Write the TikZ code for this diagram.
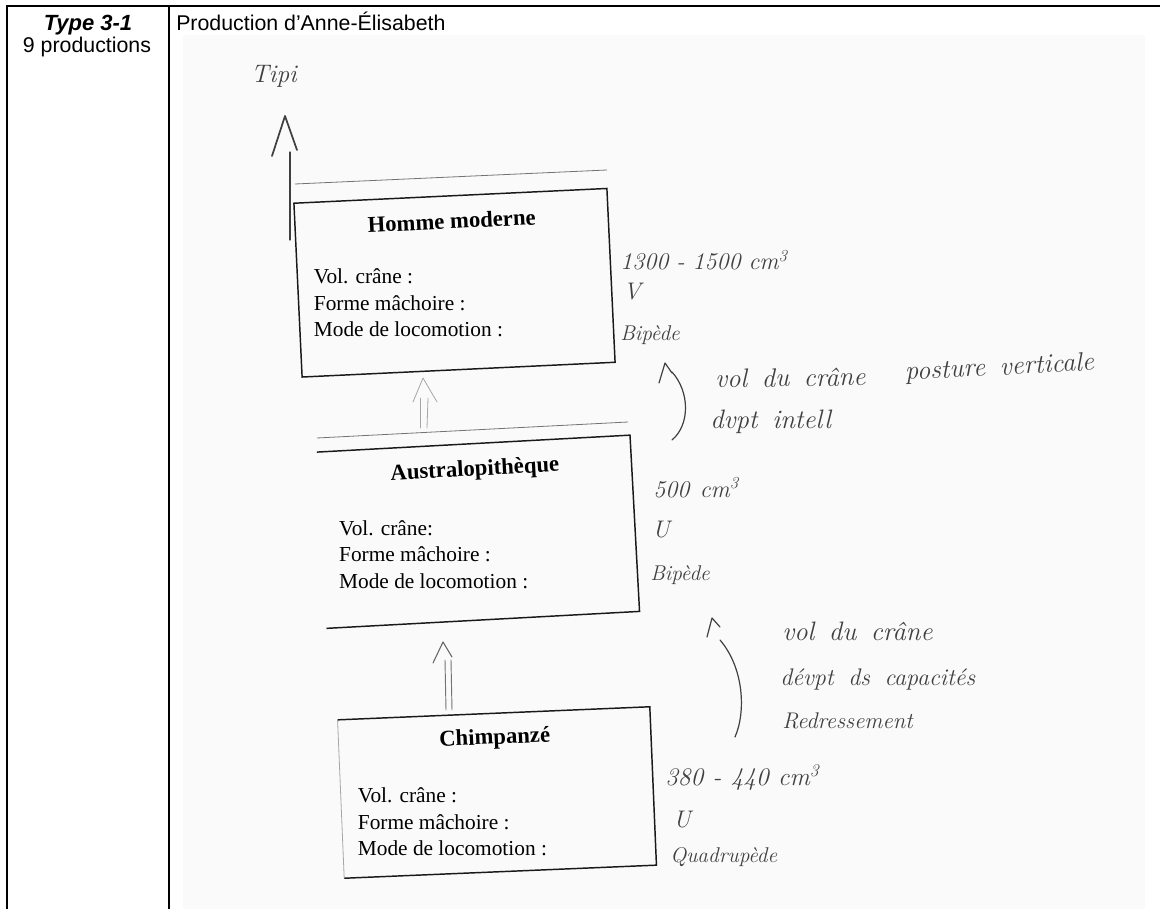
\documentclass[tikz,border=0pt]{standalone}
\usepackage{fontspec}
\newfontfamily\arialf{Liberation Sans}
\newfontfamily\serf{Liberation Serif}
\begin{document}
\begin{tikzpicture}[x=0.75pt,y=-0.75pt,
  frame/.style={line width=1.5pt},
  boxtitle/.style={font=\serf\bfseries\fontsize{17}{20}\selectfont, anchor=base, inner sep=0pt},
  fields/.style={font=\serf\fontsize{16}{19.8}\selectfont, anchor=north west, inner sep=0pt, align=left},
  boxline/.style={line width=1.1pt, draw=black!90},
  thinline/.style={line width=0.6pt, draw=black!55},
  hand/.style={draw=black!75, line width=0.9pt, line cap=round, line join=round},
  faint/.style={draw=black!35, line width=0.6pt, line cap=round, line join=round},
  hw/.style={font=\itshape\fontsize{#1}{#1}\selectfont, text=black!75, inner sep=0pt, anchor=base west, execute at begin node={\spaceskip=11pt\relax}},
  hw/.default=18,
  hdr/.style={font=\arialf\fontsize{16}{19}\selectfont, inner sep=0pt}
]
\newcommand{\firststrut}{\rule{0pt}{12pt}}
\useasboundingbox (0,0) rectangle (1160,909);
\fill[white] (0,0) rectangle (1160,909);
\fill[black!2] (183,35) rectangle (1145,909);
% table frame
\draw[frame] (6,6) -- (1160,6);
\draw[frame] (7,6) -- (7,909);
\draw[frame] (169,6) -- (169,909);
% header
\node[hdr, font=\arialf\bfseries\itshape\fontsize{16.5}{19}\selectfont, anchor=base] (type) at (88,31) {Type 3-1};
\node[hdr, anchor=base] (nprod) at (87,53) {9 productions};
\node[hdr, anchor=base west] (prodtitle) at (176,31) {Production d’Anne-Élisabeth};

% Homme moderne
\draw[thinline] (295,184) -- (607,170);
\begin{scope}[shift={(454.5,282.75)}, rotate=2.7]
  \node[boxline, draw, transform shape, minimum width=235pt, minimum height=130.5pt, inner sep=0pt] (homme) at (0,0) {};
  \node[boxtitle, transform shape] (hommeT) at (0,-54) {Homme moderne};
  \node[fields] (hommeF) at (-140,-22) {\firststrut Vol. crâne :\\ Forme mâchoire :\\ Mode de locomotion :};
\end{scope}

% Australopitheque
\draw[thinline] (317,438) -- (628,422);
\begin{scope}[shift={(478.25,531.75)}, rotate=3.1]
  \node[transform shape, minimum width=234.75pt, minimum height=132pt, inner sep=0pt] (austral) at (0,0) {};
  \draw[boxline] (austral.north west) -- (austral.north east) -- (austral.south east) -- (austral.south west);
  \node[boxtitle, transform shape] (australT) at (0,-56) {Australopithèque};
  \node[fields] (australF) at (-138.5,-20) {\firststrut Vol. crâne:\\ Forme mâchoire :\\ Mode de locomotion :};
\end{scope}

% Chimpanze
\begin{scope}[shift={(497,792.5)}, rotate=2.4]
  \node[transform shape, minimum width=234pt, minimum height=118.5pt, inner sep=0pt] (chimp) at (0,0) {};
  \draw[boxline] (chimp.north west) -- (chimp.north east) -- (chimp.south east) -- (chimp.south west);
  \draw[faint] (chimp.south west) -- (chimp.north west);
  \node[boxtitle, transform shape] (chimpT) at (0,-48.5) {Chimpanzé};
  \node[fields] (chimpF) at (-139,-12) {\firststrut Vol. crâne :\\ Forme mâchoire :\\ Mode de locomotion :};
\end{scope}

% top arrow to "Tipi"
\node[hw=19, anchor=center] (types) at (274,76) {Tipi};
\coordinate (tipApex) at (285,116);
\coordinate (tipL) at (272,156);
\coordinate (tipR) at (297,150);
\coordinate (shaftTop) at (290,152);
\coordinate (shaftBot) at (290,240);
\draw[hand] (shaftBot) -- (shaftTop);
\draw[hand, line width=1.3pt] (tipL) -- (tipApex) -- (tipR);

% arrow Australopitheque -> Homme (faint)
\coordinate (a1b) at (420,428); \coordinate (a1t) at (420,398);
\coordinate (a2b) at (427,428); \coordinate (a2t) at (428,398);
\coordinate (aApex) at (423,378);
\draw[faint] (a1b) -- (a1t);
\draw[faint] (a2b) -- (a2t);
\draw[faint] (413,402) -- (aApex) -- (437,402);

% arrow Chimpanze -> Australopitheque
\coordinate (c1b) at (446,710); \coordinate (c1t) at (445,660);
\coordinate (c2b) at (452,710); \coordinate (c2t) at (451,660);
\coordinate (cApex) at (443,642);
\draw[hand, draw=black!55, line width=0.7pt] (c1b) -- (c1t);
\draw[hand, draw=black!55, line width=0.7pt] (c2b) -- (c2t);
\draw[hand, draw=black!60, line width=0.8pt] (433,663) -- (cApex) -- (452,657);

% curved arrows
\coordinate (k1s) at (672,440); \coordinate (k1e) at (672,372);
\draw[hand] (k1s) .. controls (690,425) and (690,392) .. (k1e);
\draw[hand] (659,383) -- (665,363) -- (672,373);
\coordinate (k2s) at (735,737); \coordinate (k2e) at (720,640);
\draw[hand] (k2s) .. controls (746,712) and (744,668) .. (k2e);
\draw[hand] (707,637) -- (712,618) -- (720,627);

% handwritten annotations
\node[hw=18, execute at begin node={\spaceskip=6pt\relax}] (h1) at (620,270) {1300 - 1500 cm\textsuperscript{3}};
\node[hw=18] (h2) at (623,300) {V};
\node[hw=16] (h3) at (620,340) {Bipède};
\node[hw=20, rotate=1] (n1) at (715,388) {vol du crâne};
\node[hw=20, rotate=3] (n2) at (905,380) {posture verticale};
\node[hw=20] (n3) at (710,428) {dvpt intell};
\node[hw=18, execute at begin node={\spaceskip=8pt\relax}] (a1) at (653,497) {500 cm\textsuperscript{3}};
\node[hw=18] (a2) at (652,537) {U};
\node[hw=16] (a3) at (650,580) {Bipède};
\node[hw=20] (m1) at (782,640) {vol du crâne};
\node[hw=18] (m2) at (780,685) {dévpt ds capacités};
\node[hw=17] (m3) at (782,728) {Redressement};
\node[hw=19, execute at begin node={\spaceskip=7pt\relax}] (c1) at (665,785) {380 - 440 cm\textsuperscript{3}};
\node[hw=18] (c2) at (673,827) {U};
\node[hw=16] (c3) at (670,862) {Quadrupède};
\end{tikzpicture}
\end{document}
